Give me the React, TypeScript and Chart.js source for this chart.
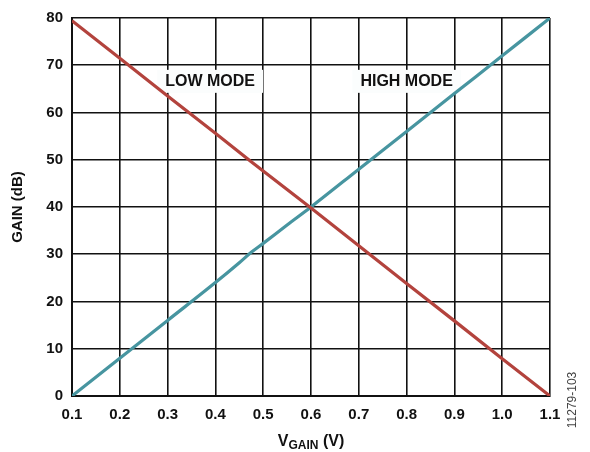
import React, { useEffect, useRef } from "react";
import { Chart, registerables } from "chart.js";

Chart.register(...registerables);

const vGain = [0.1, 0.2, 0.3, 0.4, 0.45, 0.475, 0.5, 0.55, 0.6, 0.7, 0.8, 0.9, 1.0, 1.1];
const highMode = [0, 8, 16, 24, 28.2, 30.4, 32.3, 36.2, 40, 48, 56, 64, 72, 80];
const lowMode = [79.4, 71.5, 63.5, 55.6, 51.6, 49.6, 47.6, 43.7, 39.8, 31.8, 23.8, 15.9, 7.9, 0];
const xTicks = [0.1, 0.2, 0.3, 0.4, 0.5, 0.6, 0.7, 0.8, 0.9, 1.0, 1.1];
const yTicks = [0, 10, 20, 30, 40, 50, 60, 70, 80];
const modeLabels = ["LOW MODE", "HIGH MODE"];
const modeLabelX = [0.389, 0.8];
const modeLabelY = [66.7, 66.7];

const FONT = "'Liberation Sans', Arial, sans-serif";

export default function App() {
  const ref = useRef<HTMLCanvasElement | null>(null);

  useEffect(() => {
    document.body.style.margin = "0";
    const canvas = ref.current;
    if (!canvas) return;

    const textPlugin = {
      id: "texts",
      beforeDatasetsDraw(chart: any) {
        const ctx = chart.ctx;
        const xs = chart.scales.x;
        const ys = chart.scales.y;
        ctx.save();
        ctx.font = `bold 16px ${FONT}`;
        ctx.textBaseline = "middle";
        ctx.textAlign = "center";
        modeLabels.forEach((t, i) => {
          const cx = xs.getPixelForValue(modeLabelX[i]);
          const cy = ys.getPixelForValue(modeLabelY[i]);
          const w = ctx.measureText(t).width;
          ctx.fillStyle = "#fbfdfd";
          ctx.fillRect(cx - w / 2 - 8, cy - 11, w + 16, 23);
          ctx.fillStyle = "#111";
          ctx.fillText(t, cx, cy + 1);
        });
        ctx.restore();
      },
      afterDraw(chart: any) {
        const ctx = chart.ctx;
        const area = chart.chartArea;
        ctx.save();
        ctx.fillStyle = "#111";
        ctx.font = `bold 15px ${FONT}`;
        ctx.textAlign = "center";
        ctx.textBaseline = "middle";
        ctx.translate(18, (area.top + area.bottom) / 2);
        ctx.rotate(-Math.PI / 2);
        ctx.fillText("GAIN (dB)", 0, 0);
        ctx.restore();

        ctx.save();
        ctx.fillStyle = "#111";
        ctx.textBaseline = "alphabetic";
        ctx.textAlign = "left";
        const big = `bold 16px ${FONT}`;
        const small = `bold 12px ${FONT}`;
        ctx.font = big;
        const wV = ctx.measureText("V").width;
        const wRest = ctx.measureText(" (V)").width;
        ctx.font = small;
        const wSub = ctx.measureText("GAIN").width;
        const total = wV + wSub + wRest;
        const cx = (area.left + area.right) / 2;
        let x = cx - total / 2;
        const base = 446;
        ctx.font = big;
        ctx.fillText("V", x, base);
        x += wV;
        ctx.font = small;
        ctx.fillText("GAIN", x, base + 3);
        x += wSub;
        ctx.font = big;
        ctx.fillText(" (V)", x, base);
        ctx.restore();

        ctx.save();
        ctx.fillStyle = "#444";
        ctx.font = `12px ${FONT}`;
        ctx.textAlign = "center";
        ctx.textBaseline = "middle";
        ctx.translate(573, 400);
        ctx.rotate(-Math.PI / 2);
        ctx.fillText("11279-103", 0, 0);
        ctx.restore();
      },
    };

    const chart = new Chart(canvas, {
      type: "line",
      data: {
        datasets: [
          {
            label: "LOW MODE",
            data: vGain.map((v, i) => ({ x: v, y: lowMode[i] })),
            borderColor: "#b3433d",
            borderWidth: 3.2,
            pointRadius: 0,
            tension: 0,
          },
          {
            label: "HIGH MODE",
            data: vGain.map((v, i) => ({ x: v, y: highMode[i] })),
            borderColor: "#4795a0",
            borderWidth: 3.2,
            pointRadius: 0,
            tension: 0.2,
            cubicInterpolationMode: "monotone",
          },
        ],
      },
      options: {
        animation: false,
        responsive: false,
        maintainAspectRatio: false,
        layout: { padding: { left: 0, right: 40, top: 14, bottom: 0 } },
        plugins: { legend: { display: false }, tooltip: { enabled: false } },
        scales: {
          x: {
            type: "linear",
            min: 0.1,
            max: 1.1,
            afterBuildTicks: (s: any) => {
              s.ticks = xTicks.map((v) => ({ value: v }));
            },
            afterFit: (s: any) => {
              s.height = 452 - 396;
            },
            ticks: {
              callback: (v: any) => Number(v).toFixed(1),
              font: { family: FONT, size: 15, weight: "bold" },
              color: "#111",
              padding: 10,
              maxRotation: 0,
              autoSkip: false,
            },
            grid: { color: "#111", lineWidth: 1.6, drawTicks: false },
            border: { color: "#111", width: 2 },
          },
          y: {
            type: "linear",
            min: 0,
            max: 80,
            afterBuildTicks: (s: any) => {
              s.ticks = yTicks.map((v) => ({ value: v }));
            },
            afterFit: (s: any) => {
              s.width = 72;
            },
            ticks: {
              font: { family: FONT, size: 15, weight: "bold" },
              color: "#111",
              padding: 9,
              autoSkip: false,
            },
            grid: { color: "#111", lineWidth: 1.6, drawTicks: false },
            border: { color: "#111", width: 2 },
          },
        },
      },
      plugins: [textPlugin],
    });

    return () => chart.destroy();
  }, []);

  return <canvas ref={ref} width={590} height={452} style={{ display: "block" }} />;
}
